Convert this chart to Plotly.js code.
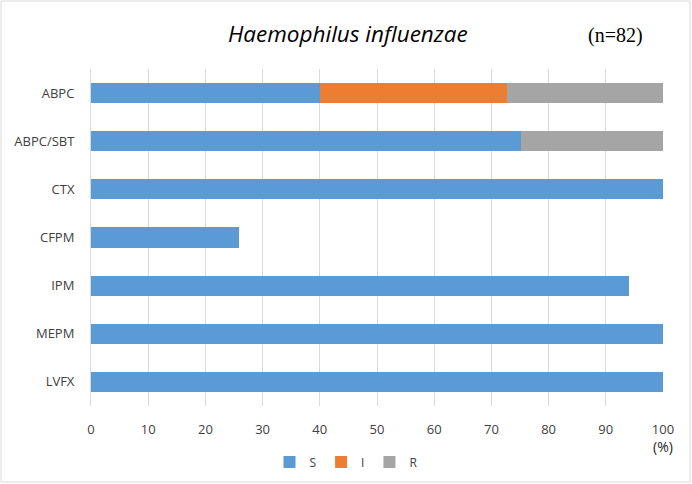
<!DOCTYPE html>
<html><head><meta charset="utf-8">
<script src="https://cdn.plot.ly/plotly-3.0.1.min.js"></script>
<style>body{margin:0;}#c{width:692px;height:484px;}</style>
</head><body><div id="c"></div>
<script>
const drugs = ["ABPC","ABPC/SBT","CTX","CFPM","IPM","MEPM","LVFX"];
const S = [40.0, 75.2, 100, 25.9, 94.0, 100, 100];
const I = [32.8, 0, 0, 0, 0, 0, 0];
const R = [27.2, 24.8, 0, 0, 0, 0, 0];
const xTicks = [0,10,20,30,40,50,60,70,80,90,100];

const mk = (name, vals, color) => ({
  type: 'bar', orientation: 'h', name: name, y: drugs, x: vals,
  marker: {color: color, line: {width: 0}}, hoverinfo: 'x+y'
});
const data = [mk('S', S, '#5b9bd5'), mk('I', I, '#ed7d31'), mk('R', R, '#a5a5a5')];

const layout = {
  width: 692, height: 484,
  margin: {l: 91, r: 29, t: 69, b: 78, autoexpand: false},
  barmode: 'stack', bargap: 0.58,
  paper_bgcolor: '#fff', plot_bgcolor: '#fff',
  font: {family: 'Open Sans, Liberation Sans, sans-serif', size: 12, color: '#404040'},
  xaxis: {range: [0, 100], tickvals: xTicks, ticktext: xTicks.map(String),
    showgrid: true, gridcolor: '#d9d9d9', gridwidth: 1, zeroline: false,
    showline: false, ticks: 'outside', ticklen: 11, tickcolor: 'rgba(0,0,0,0)',
    tickfont: {size: 13, color: '#404040'}, fixedrange: true},
  yaxis: {autorange: 'reversed', showgrid: false, showline: true, linecolor: '#d9d9d9',
    linewidth: 1, ticks: 'outside', ticklen: 13, tickcolor: 'rgba(0,0,0,0)',
    tickfont: {size: 13, color: '#404040'}},
  showlegend: true,
  legend: {orientation: 'h', x: 0.5, xanchor: 'center', xref: 'container',
    y: (484-462)/484, yanchor: 'middle', yref: 'container',
    font: {size: 12, color: '#404040'}, traceorder: 'normal', itemwidth: 30},
  annotations: [
    {text: '<i>Haemophilus influenzae</i>', xref: 'paper', yref: 'paper',
     x: (348-91)/572, y: (406-33)/337, showarrow: false, xanchor: 'center', yanchor: 'middle',
     font: {family: 'Open Sans, Liberation Sans, sans-serif', size: 22.5, color: '#000'}},
    {text: '(n=82)', xref: 'paper', yref: 'paper',
     x: (615-91)/572, y: (406-35)/337, showarrow: false, xanchor: 'center', yanchor: 'middle',
     font: {family: 'Liberation Serif, serif', size: 20, color: '#000'}},
    {text: '(%)', xref: 'paper', yref: 'paper',
     x: (663-91)/572, y: (406-446)/337, showarrow: false, xanchor: 'center', yanchor: 'middle',
     font: {size: 14, color: '#262626'}}
  ],
  shapes: [
    {type: 'rect', xref: 'paper', yref: 'paper',
     x0: (1-91)/572, x1: (690-91)/572, y0: (406-482)/337, y1: (406-1)/337,
     line: {color: '#d9d9d9', width: 1}, fillcolor: 'rgba(0,0,0,0)', layer: 'below'}
  ]
};
Plotly.newPlot('c', data, layout, {displayModeBar: false, staticPlot: true});
</script></body></html>
